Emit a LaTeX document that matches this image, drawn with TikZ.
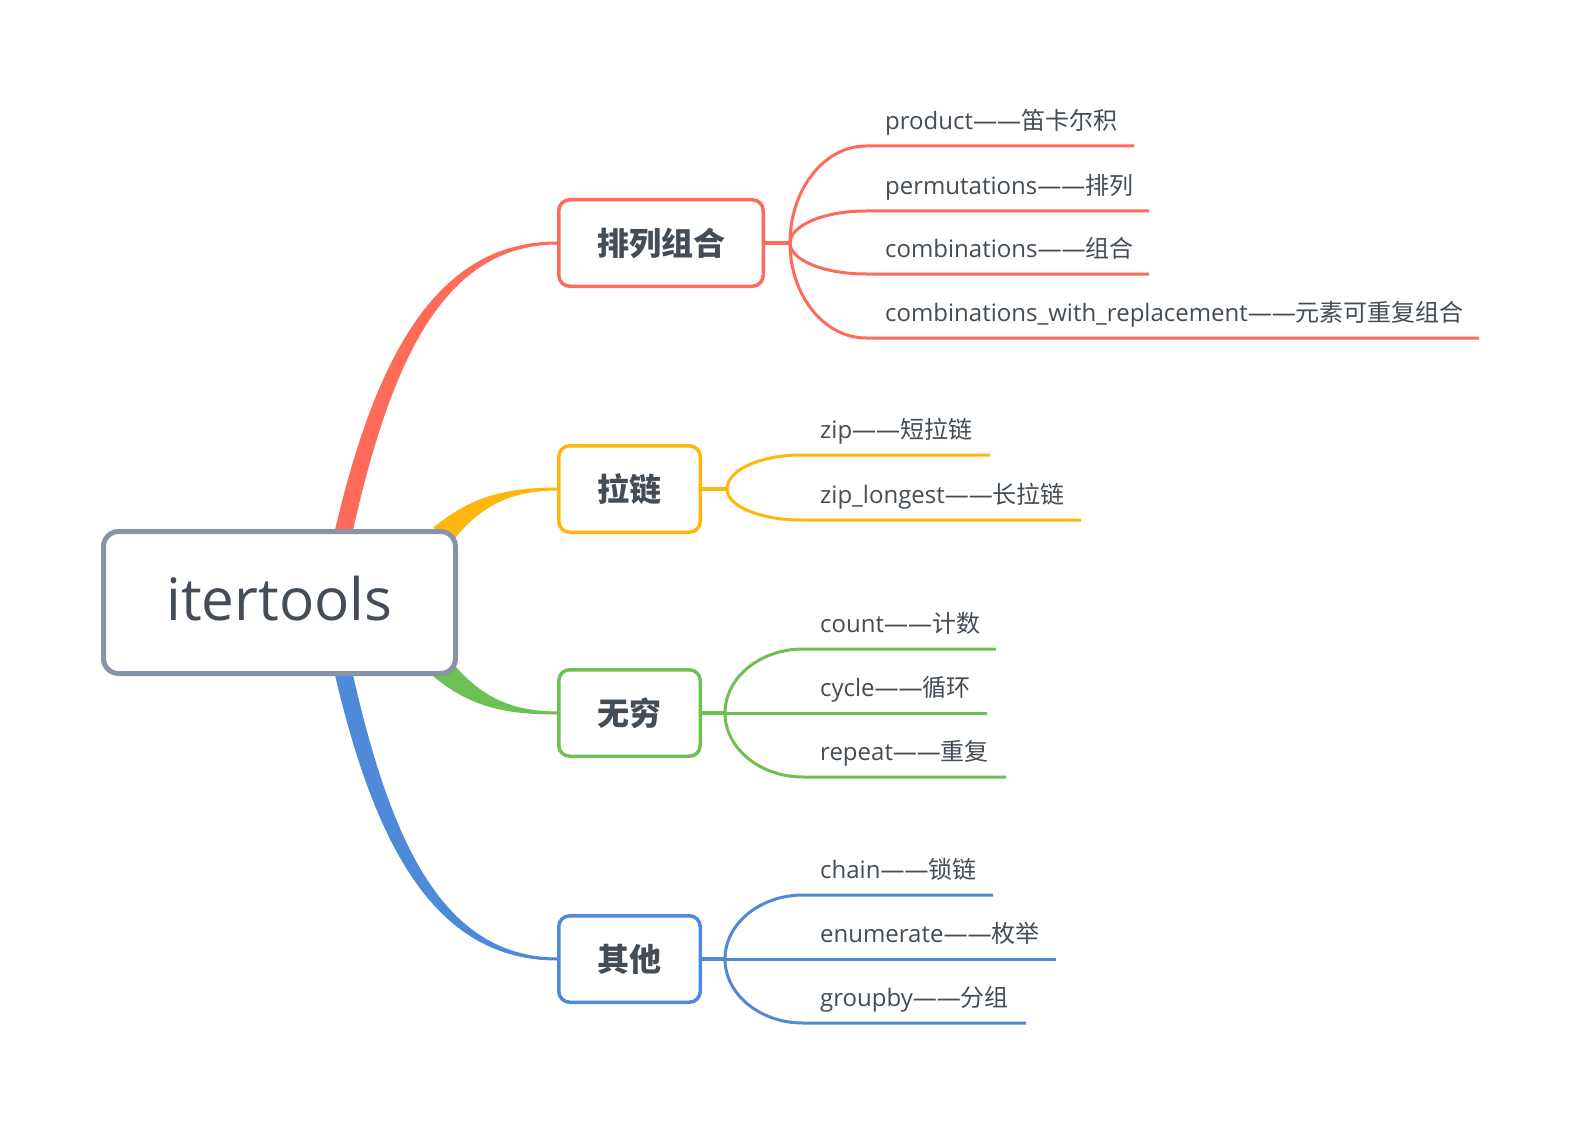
\documentclass[tikz,border=0pt]{standalone}
\usepackage{fontspec}
\setmainfont{Open Sans}
\newfontfamily\cjk{Noto Sans CJK SC}
\usetikzlibrary{calc}
\definecolor{cred}{HTML}{FF6B5A}
\definecolor{cyel}{HTML}{FFB70F}
\definecolor{cgrn}{HTML}{6DC153}
\definecolor{cblu}{HTML}{4F8AD9}
\definecolor{cgray}{HTML}{8894A6}
\definecolor{ctxt}{HTML}{444C56}
\tikzset{
  leaf/.style={anchor=base west, inner sep=0pt, text=ctxt, font=\fontsize{24}{28}\selectfont},
  subbox/.style={draw=#1, line width=3.5pt, rounded corners=11pt, fill=white, text=ctxt,
     font=\cjk\bfseries\fontsize{32}{38}\selectfont, minimum height=86.5pt, inner sep=0pt},
  ln/.style={draw=#1, line width=3pt},
  stem/.style={draw=#1, line width=3.5pt},
}
\newcommand\leafline[4]{\draw[ln=#4] (#1) .. controls ($(#1)!0.552!(#1|-#2)$) and ($(#2)!0.552!(#1|-#2)$) .. (#2) -- (#3);}
\newcommand\dd{——}
\begin{document}
\begin{tikzpicture}[x=1pt,y=-1pt]
\useasboundingbox (0,0) rectangle (1580,1126);
\fill[white] (0,0) rectangle (1580,1126);

% main branches (tapered)
\fill[cred] (335,530) .. controls (376,355) and (437,241.5) .. (557,241.5) -- (557,244.5) .. controls (443,245) and (391,362) .. (353,530) -- cycle;
\fill[cblu] (335,675) .. controls (376,850) and (437,960.5) .. (557,960.5) -- (557,957.5) .. controls (443,957) and (391,842) .. (353,675) -- cycle;
\fill[cyel] (433,528) .. controls (470,497) and (505,487.5) .. (557,487.5) -- (557,490.5) .. controls (515,491) and (485,502) .. (455,538) -- cycle;
\fill[cgrn] (433,676) .. controls (470,707) and (505,714.5) .. (557,714.5) -- (557,711.5) .. controls (515,711) and (485,700) .. (455,666) -- cycle;

% root
\node[draw=cgray, line width=5pt, rounded corners=15pt, fill=white, minimum width=352pt, minimum height=142pt,
      text=ctxt, font=\fontsize{58.5}{62}\selectfont, text height=44.5pt, text depth=8pt, inner sep=0pt]
      (root) at (279.5,602.5) {itertools};

% branch boxes
\node[subbox=cred, minimum width=204.5pt] (b1) at (661,243) {排列组合};
\node[subbox=cyel, minimum width=141.5pt] (b2) at (629.5,489) {拉链};
\node[subbox=cgrn, minimum width=141.5pt] (b3) at (629.5,713) {无穷};
\node[subbox=cblu, minimum width=141.5pt] (b4) at (629.5,959) {其他};

% forks
\coordinate (fa) at (790,243);
\coordinate (fb) at (727,489);
\coordinate (fc) at (725,713);
\coordinate (fd) at (725,959);
\draw[stem=cred] (b1.east) -- (fa);
\draw[stem=cyel] (b2.east) -- (fb);
\draw[stem=cgrn] (b3.east) -- (fc);
\draw[stem=cblu] (b4.east) -- (fd);

% group A
\coordinate (a1s) at (866,146);  \coordinate (a1e) at (1134,146);
\coordinate (a2s) at (866,211);  \coordinate (a2e) at (1149,211);
\coordinate (a3s) at (866,274);  \coordinate (a3e) at (1149,274);
\coordinate (a4s) at (866,338);  \coordinate (a4e) at (1479,338);
\leafline{fa}{a1s}{a1e}{cred}
\leafline{fa}{a2s}{a2e}{cred}
\leafline{fa}{a3s}{a3e}{cred}
\leafline{fa}{a4s}{a4e}{cred}
\node[leaf] (l1) at (885,129.5) {product\dd{\cjk 笛卡尔积}};
\node[leaf] (l2) at (885,194.5) {permutations\dd{\cjk 排列}};
\node[leaf] (l3) at (885,257.5) {combinations\dd{\cjk 组合}};
\node[leaf] (l4) at (885,321.5) {combinations\_with\_replacement\dd{\cjk 元素可重复组合}};

% group B
\coordinate (b1s) at (801,455);  \coordinate (b1e) at (990,455);
\coordinate (b2s) at (801,520);  \coordinate (b2e) at (1081,520);
\leafline{fb}{b1s}{b1e}{cyel}
\leafline{fb}{b2s}{b2e}{cyel}
\node[leaf] (l5) at (820,438.5) {zip\dd{\cjk 短拉链}};
\node[leaf] (l6) at (820,503.5) {zip\_longest\dd{\cjk 长拉链}};

% group C
\coordinate (c1s) at (803,649);  \coordinate (c1e) at (996,649);
\coordinate (c2s) at (803,713);  \coordinate (c2e) at (987,713);
\coordinate (c3s) at (803,777);  \coordinate (c3e) at (1006,777);
\leafline{fc}{c1s}{c1e}{cgrn}
\leafline{fc}{c2s}{c2e}{cgrn}
\leafline{fc}{c3s}{c3e}{cgrn}
\node[leaf] (l7) at (820,632.5) {count\dd{\cjk 计数}};
\node[leaf] (l8) at (820,696.5) {cycle\dd{\cjk 循环}};
\node[leaf] (l9) at (820,760.5) {repeat\dd{\cjk 重复}};

% group D
\coordinate (d1s) at (803,895);  \coordinate (d1e) at (993,895);
\coordinate (d2s) at (803,959);  \coordinate (d2e) at (1056,959);
\coordinate (d3s) at (803,1023); \coordinate (d3e) at (1026,1023);
\leafline{fd}{d1s}{d1e}{cblu}
\leafline{fd}{d2s}{d2e}{cblu}
\leafline{fd}{d3s}{d3e}{cblu}
\node[leaf] (l10) at (820,878) {chain\dd{\cjk 锁链}};
\node[leaf] (l11) at (820,942) {enumerate\dd{\cjk 枚举}};
\node[leaf] (l12) at (820,1006) {groupby\dd{\cjk 分组}};
\end{tikzpicture}
\end{document}
